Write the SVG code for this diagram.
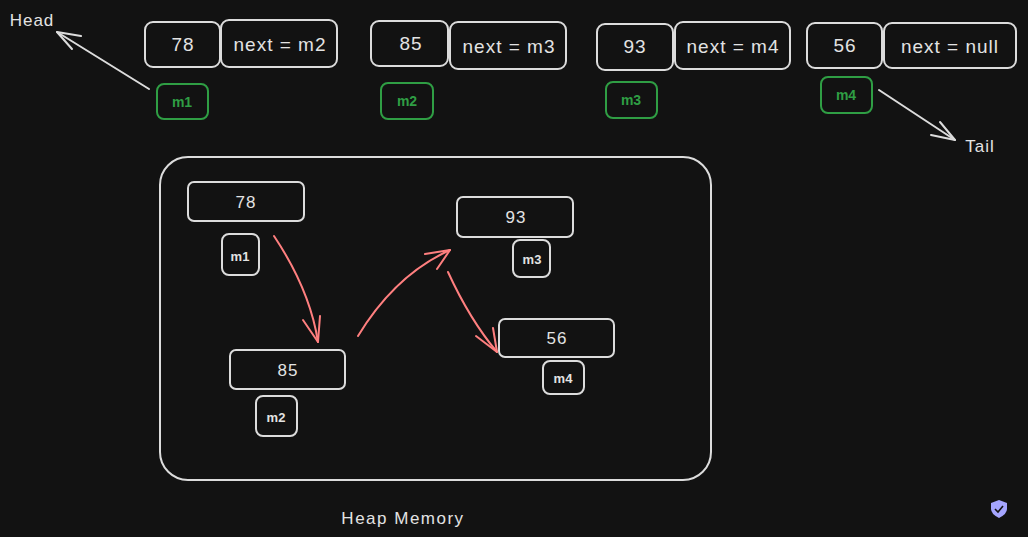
<svg xmlns="http://www.w3.org/2000/svg" width="1028" height="537" viewBox="0 0 1028 537">
<style>
.box{fill:none;stroke:#dcdcdc;stroke-width:2}
.gbox{fill:none;stroke:#2f9e44;stroke-width:2}
.t{font-family:"Liberation Sans",sans-serif;fill:#e3e3e3;text-anchor:middle;dominant-baseline:central;letter-spacing:1px}
.g{font-family:"Liberation Sans",sans-serif;fill:#2f9e44;text-anchor:middle;dominant-baseline:central;font-size:14px;font-weight:bold}
.s{font-family:"Liberation Sans",sans-serif;fill:#e3e3e3;text-anchor:middle;dominant-baseline:central;font-size:13px;font-weight:bold}
.w{stroke:#dcdcdc;stroke-width:2;fill:none;stroke-linecap:round}
.r{stroke:#ff7f7f;stroke-width:2;fill:none;stroke-linecap:round}
</style>
<rect width="1028" height="537" fill="#121212"/>
<g id="node-78">
<rect class="box" x="145" y="22" width="75" height="45" rx="8"/>
<text class="t" x="183" y="44" font-size="19">78</text>
<rect class="box" x="221" y="20" width="116" height="47" rx="8"/>
<text class="t" x="280" y="44" font-size="19">next = m2</text>
</g>
<g id="node-85">
<rect class="box" x="371" y="21" width="77" height="45" rx="8"/>
<text class="t" x="411" y="43" font-size="19">85</text>
<rect class="box" x="450" y="22" width="116" height="47" rx="8"/>
<text class="t" x="509" y="46" font-size="19">next = m3</text>
</g>
<g id="node-93">
<rect class="box" x="597" y="24" width="76" height="46" rx="8"/>
<text class="t" x="635" y="46" font-size="19">93</text>
<rect class="box" x="675" y="22" width="115" height="47" rx="8"/>
<text class="t" x="733" y="46" font-size="19">next = m4</text>
</g>
<g id="node-56">
<rect class="box" x="807" y="23" width="75" height="45" rx="8"/>
<text class="t" x="845" y="45" font-size="19">56</text>
<rect class="box" x="884" y="23" width="132" height="45" rx="8"/>
<text class="t" x="950" y="46" font-size="19">next = null</text>
</g>
<g id="label-m1"><rect class="gbox" x="157" y="84" width="51" height="35" rx="7"/><text class="g" x="182" y="102">m1</text></g>
<g id="label-m2"><rect class="gbox" x="381" y="83" width="52" height="36" rx="7"/><text class="g" x="407" y="101">m2</text></g>
<g id="label-m3"><rect class="gbox" x="606" y="82" width="51" height="36" rx="7"/><text class="g" x="631" y="100">m3</text></g>
<g id="label-m4"><rect class="gbox" x="821" y="77" width="51" height="36" rx="7"/><text class="g" x="846" y="95">m4</text></g>
<g id="head"><text class="t" x="32" y="20" font-size="17">Head</text></g>
<g id="tail"><text class="t" x="980" y="146" font-size="17">Tail</text></g>
<g id="heap">
<rect class="box" x="160" y="157" width="551" height="323" rx="28"/>
<text class="t" x="403" y="518" font-size="17" style="letter-spacing:1.5px">Heap Memory</text>
</g>
<g id="heap-78"><rect class="box" x="188" y="182" width="116" height="39" rx="6"/><text class="t" x="246" y="202" font-size="17">78</text>
<rect class="box" x="222" y="234" width="37" height="41" rx="7"/><text class="s" x="240" y="256">m1</text></g>
<g id="heap-85"><rect class="box" x="230" y="350" width="115" height="39" rx="6"/><text class="t" x="288" y="370" font-size="17">85</text>
<rect class="box" x="256" y="396" width="41" height="40" rx="7"/><text class="s" x="276" y="417">m2</text></g>
<g id="heap-93"><rect class="box" x="457" y="197" width="116" height="40" rx="6"/><text class="t" x="516" y="217" font-size="17">93</text>
<rect class="box" x="513" y="240" width="37" height="37" rx="7"/><text class="s" x="532" y="259">m3</text></g>
<g id="heap-56"><rect class="box" x="499" y="319" width="115" height="38" rx="6"/><text class="t" x="557" y="338" font-size="17">56</text>
<rect class="box" x="543" y="361" width="41" height="33" rx="7"/><text class="s" x="563" y="378">m4</text></g>
<g id="connectors">
<path class="w" d="M149 89 L57 32"/>
<path class="w" d="M57 32 L81 36 M57 32 L72 49"/>
<path class="w" d="M879 90 L955 140"/>
<path class="w" d="M955 140 L940 122 M955 140 L931 135"/>
<path class="r" d="M274 236 Q310 290 318 342"/>
<path class="r" d="M318 342 L303 320 M318 342 L320 316"/>
<path class="r" d="M358 336 Q395 275 450 250"/>
<path class="r" d="M450 250 L425 254 M450 250 L437 269"/>
<path class="r" d="M448 272 Q470 320 497 352"/>
<path class="r" d="M497 352 L476 336 M497 352 L493 328"/>
</g>
<g id="shield">
<path d="M999 500 L1007 503 L1007 509 Q1007 514 999 518 Q991 514 991 509 L991 503 Z" fill="#a5a5ff"/>
<path d="M995 509 L998 512 L1003 506" stroke="#121212" stroke-width="1.6" fill="none"/>
</g>
</svg>
